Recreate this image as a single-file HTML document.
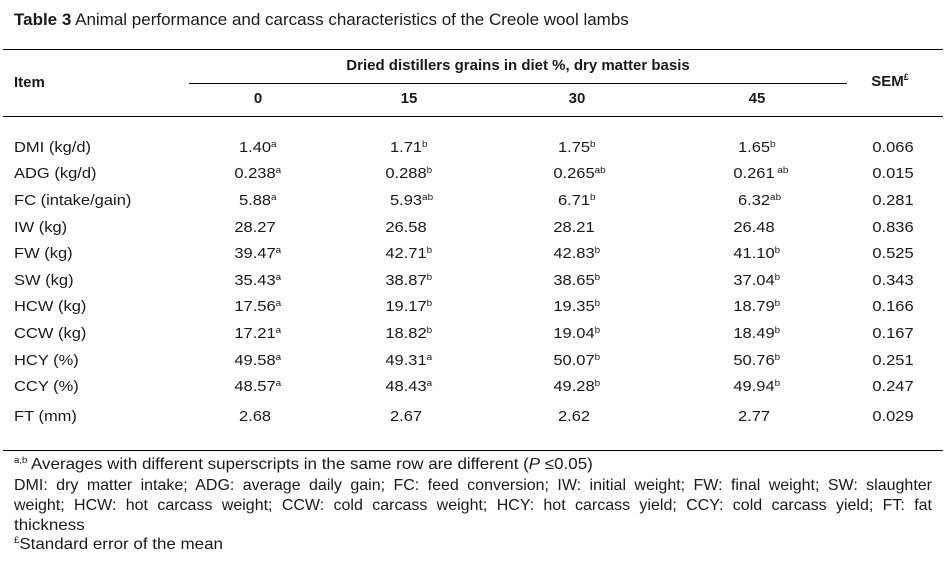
<!DOCTYPE html>
<html><head><meta charset="utf-8"><style>
body{margin:0;width:946px;height:561px;background:#fff;position:relative;overflow:hidden;font-family:"Liberation Sans",Arial,sans-serif;color:#1a1a1a;}
.a{position:absolute;white-space:nowrap;}
.c{transform:translateX(-50%);}
.hl{position:absolute;height:0;border-top:1.5px solid #000;}
.b{font-weight:bold;}
sup{font-size:9px;vertical-align:6px;line-height:0;}
.v{font-size:15px;}
.lab{transform-origin:0 0;transform:scaleX(1.1);}
.fn{font-size:16px;transform-origin:0 0;transform:scaleX(1.06);}
.j{position:absolute;left:14px;width:918px;font-size:16px;text-align:justify;text-align-last:justify;white-space:nowrap;}
</style></head><body>
<div class="a" style="left:14px;top:10px;font-size:17px;"><b>Table 3</b> Animal performance and carcass characteristics of the Creole wool lambs</div>
<div class="hl" style="left:3px;width:940px;top:49px"></div>
<div class="hl" style="left:189px;width:658px;top:83px;border-top-width:1px"></div>
<div class="hl" style="left:3px;width:940px;top:116px"></div>
<div class="hl" style="left:3px;width:940px;top:450px"></div>
<div class="a b" style="left:14px;top:74px;font-size:15px">Item</div>
<div class="a b c" style="left:518px;top:57px;font-size:15px">Dried distillers grains in diet %, dry matter basis</div>
<div class="a b c" style="left:890px;top:73px;font-size:15px">SEM<sup>£</sup></div>
<div id="hdrs"></div>
<div id="rows"></div>
<div class="a fn" style="left:14px;top:456px"><sup>a,b</sup> Averages with different superscripts in the same row are different (<i>P</i> ≤0.05)</div>
<div class="j" style="top:477px">DMI: dry matter intake; ADG: average daily gain; FC: feed conversion; IW: initial weight; FW: final weight; SW: slaughter</div>
<div class="j" style="top:497px">weight; HCW: hot carcass weight; CCW: cold carcass weight; HCY: hot carcass yield; CCY: cold carcass yield; FT: fat</div>
<div class="a fn" style="left:14px;top:517px">thickness</div>
<div class="a fn" style="left:14px;top:536px"><sup>£</sup>Standard error of the mean</div>
<script>
const colLabels=["0","15","30","45"];
const colX=[255,406,574,754];
const items=["DMI (kg/d)","ADG (kg/d)","FC (intake/gain)","IW (kg)","FW (kg)","SW (kg)","HCW (kg)","CCW (kg)","HCY (%)","CCY (%)","FT (mm)"];
const vals=[["1.40","1.71","1.75","1.65"],["0.238","0.288","0.265","0.261"],["5.88","5.93","6.71","6.32"],["28.27","26.58","28.21","26.48"],["39.47","42.71","42.83","41.10"],["35.43","38.87","38.65","37.04"],["17.56","19.17","19.35","18.79"],["17.21","18.82","19.04","18.49"],["49.58","49.31","50.07","50.76"],["48.57","48.43","49.28","49.94"],["2.68","2.67","2.62","2.77"]];
const sups=[["a","b","b","b"],["a","b","ab"," ab"],["a","ab","b","ab"],["","","",""],["a","b","b","b"],["a","b","b","b"],["a","b","b","b"],["a","b","b","b"],["a","a","b","b"],["a","a","b","b"],["","","",""]];
const sem=["0.066","0.015","0.281","0.836","0.525","0.343","0.166","0.167","0.251","0.247","0.029"];
const rowY=[139,165,192,219,245,272,298,325,352,378,408];
const H=document.getElementById('hdrs');
colLabels.forEach((l,i)=>{const d=document.createElement('div');d.className='a b c';d.style.cssText=`left:${colX[i]+3}px;top:90px;font-size:15px`;d.textContent=l;


H.appendChild(d);});
const R=document.getElementById('rows');
items.forEach((it,r)=>{
 const l=document.createElement('div');l.className='a v lab';l.style.cssText=`left:14px;top:${rowY[r]}px`;l.textContent=it;
 
 
 R.appendChild(l);
 vals[r].forEach((v,c)=>{const d=document.createElement('div');d.className='a v';
  d.style.cssText=`left:${colX[c]}px;top:${rowY[r]}px;transform:translateX(-50%) scaleX(1.1)`;
  d.innerHTML=v+'<span style="position:absolute;left:100%;top:0;font-size:9px;white-space:pre">'+sups[r][c]+'</span>';
  
  
  R.appendChild(d);});
 const s=document.createElement('div');s.className='a v';s.style.cssText=`left:893px;top:${rowY[r]}px;transform:translateX(-50%) scaleX(1.1)`;s.textContent=sem[r];
 
 
 R.appendChild(s);
});
</script>
</body></html>
